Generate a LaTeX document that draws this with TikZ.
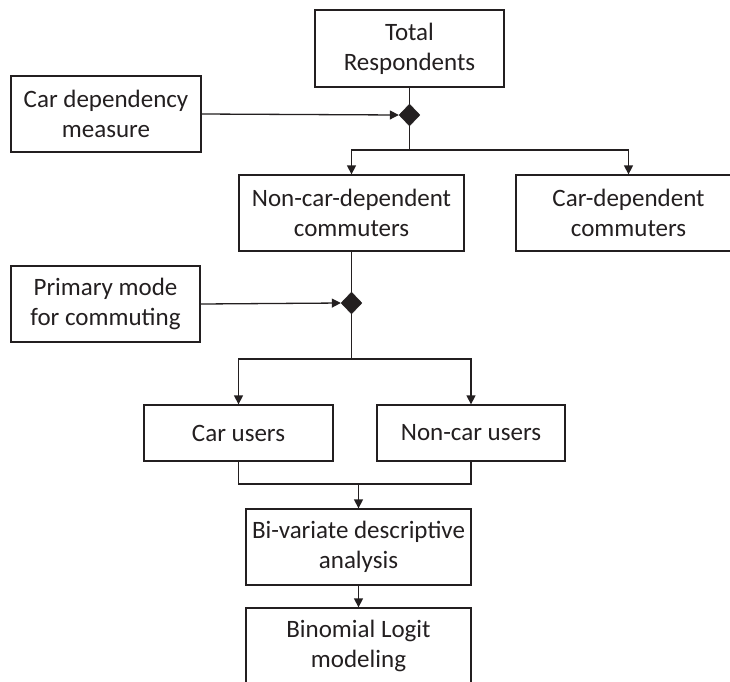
\documentclass[tikz,border=0pt]{standalone}
\usepackage{fontspec}
\setmainfont{Carlito}
\usetikzlibrary{arrows.meta,shapes.geometric}
\definecolor{ink}{RGB}{35,31,32}
\begin{document}
\begin{tikzpicture}[x=1pt,y=-1pt,
  box/.style={draw=ink,line width=1.3pt,text=ink,align=center,inner sep=0pt,
    font=\fontsize{25}{30}\selectfont},
  dia/.style={diamond,fill=ink,draw=ink,inner sep=0pt,minimum width=21pt,minimum height=22pt},
  conn/.style={draw=ink,line width=1.3pt},
  arr/.style={conn,-{Triangle[length=9pt,width=9pt]}}]
\clip (0,0) rectangle (730,681);
\fill[white] (0,0) rectangle (730,681);
\node[box,minimum width=189pt,minimum height=77pt] (tot) at (409.5,48.5) {Total\\Respondents};
\node[box,minimum width=190pt,minimum height=76pt] (cdm) at (106,114) {Car dependency\\measure};
\node[box,minimum width=225pt,minimum height=76pt] (ncd) at (351.5,213) {Non-car-dependent\\commuters};
\node[box,minimum width=225pt,minimum height=76pt] (cd) at (628.5,213) {Car-dependent\\commuters};
\node[box,minimum width=189pt,minimum height=76pt] (pm) at (105.5,304) {Primary mode\\for commuting};
\node[box,minimum width=189pt,minimum height=56pt] (cu) at (238.5,433) {Car users};
\node[box,minimum width=188pt,minimum height=56pt] (ncu) at (471,433) {Non-car users};
\node[box,minimum width=225pt,minimum height=76pt] (bv) at (358.5,547) {Bi-variate descriptive\\analysis};
\node[box,minimum width=225pt,minimum height=76pt] (bl) at (358.5,646) {Binomial Logit\\modeling};
\node[dia] (d1) at (409.5,115) {};
\node[dia] (d2) at (351.5,303) {};
\coordinate (b1) at (409.5,150);
\coordinate (b2) at (351.5,359);
\coordinate (m) at (358.5,484);
% connectors
\draw[conn] (tot.south) -- (d1.north);
\draw[arr] (cdm.east) -- (d1.west);
\draw[conn] (d1.south) -- (b1);
\draw[arr] (b1) -| (ncd.north);
\draw[arr] (b1) -| (cd.north);
\draw[conn] (ncd.south) -- (d2.north);
\draw[arr] (pm.east) -- (d2.west);
\draw[conn] (d2.south) -- (b2);
\draw[arr] (b2) -| (cu.north);
\draw[arr] (b2) -| (ncu.north);
\draw[conn] (cu.south) |- (m);
\draw[conn] (ncu.south) |- (m);
\draw[arr] (m) -- (bv.north);
\draw[arr] (bv.south) -- (bl.north);
\end{tikzpicture}
\end{document}
